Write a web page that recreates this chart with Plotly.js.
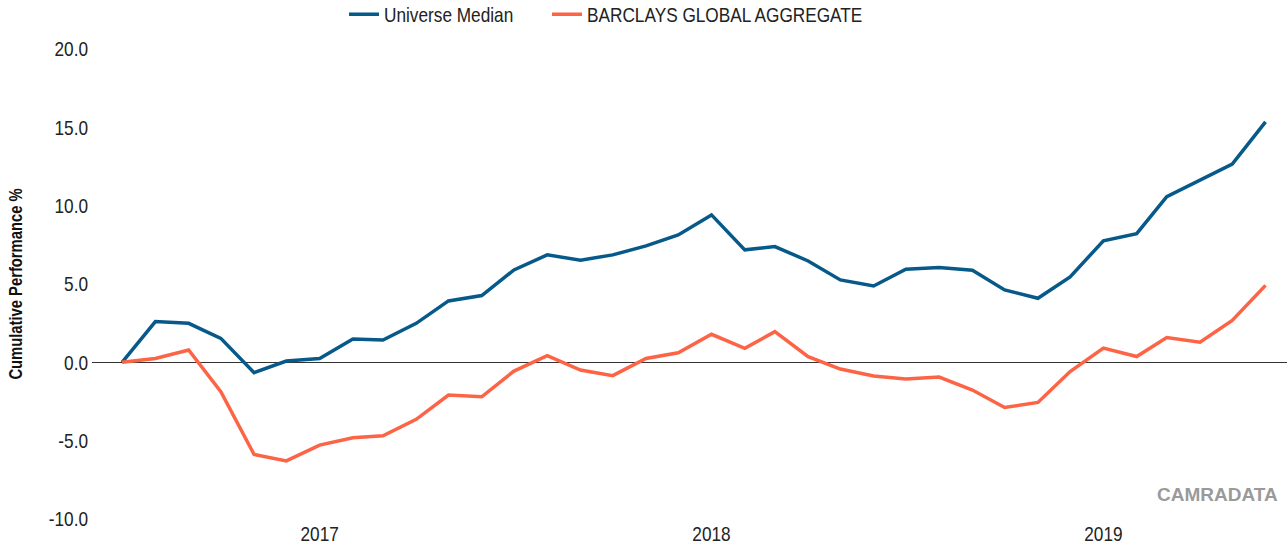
<!DOCTYPE html>
<html>
<head>
<meta charset="utf-8">
<script src="https://cdn.plot.ly/plotly-3.0.1.min.js"></script>
<style>
html,body{margin:0;padding:0;background:#fff;}
#chart{width:1287px;height:550px;}
</style>
</head>
<body>
<div id="chart"></div>
<script>
var months = ['2016-07-01','2016-08-01','2016-09-01','2016-10-01','2016-11-01','2016-12-01',
  '2017-01-01','2017-02-01','2017-03-01','2017-04-01','2017-05-01','2017-06-01',
  '2017-07-01','2017-08-01','2017-09-01','2017-10-01','2017-11-01','2017-12-01',
  '2018-01-01','2018-02-01','2018-03-01','2018-04-01','2018-05-01','2018-06-01',
  '2018-07-01','2018-08-01','2018-09-01','2018-10-01','2018-11-01','2018-12-01',
  '2019-01-01','2019-02-01','2019-03-01','2019-04-01','2019-05-01','2019-06-01'];
var universeMedian = [0, 2.6, 2.49, 1.53, -0.66, 0.08, 0.25, 1.49, 1.42, 2.49, 3.92, 4.26,
  5.9, 6.86, 6.52, 6.86, 7.43, 8.13, 9.41, 7.18, 7.39, 6.47, 5.26, 4.87,
  5.94, 6.05, 5.88, 4.62, 4.09, 5.45, 7.76, 8.21, 10.58, 11.66, 12.66, 15.35];
var barclaysGlobalAggregate = [0, 0.25, 0.79, -1.88, -5.88, -6.29, -5.28, -4.82, -4.69, -3.64, -2.09, -2.2,
  -0.56, 0.42, -0.49, -0.85, 0.25, 0.61, 1.79, 0.89, 1.96, 0.36, -0.43, -0.87,
  -1.07, -0.94, -1.77, -2.88, -2.56, -0.59, 0.91, 0.37, 1.58, 1.29, 2.67, 4.91];
var seriesNames = ['Universe Median', 'BARCLAYS GLOBAL AGGREGATE'];
var yearTickVals = ['2017-01-01','2018-01-01','2019-01-01'];
var yearTickText = ['2017','2018','2019'];
var yTickVals = [-10, -5, 0, 5, 10, 15, 20];
var yTickText = ['-10.0', '-5.0', '0.0', '5.0', '10.0', '15.0', '20.0'];

var FONT = '"Liberation Sans", Arial, sans-serif';
var NARROW = 0.82;

var traces = [
  {x: months, y: universeMedian, name: seriesNames[0], type: 'scatter', mode: 'lines',
   legendwidth: 158, line: {color: '#07598a', width: 3.5}},
  {x: months, y: barclaysGlobalAggregate, name: seriesNames[1], type: 'scatter', mode: 'lines',
   line: {color: '#fd6446', width: 3.5}}
];

var layout = {
  width: 1287, height: 550,
  margin: {l: 92, r: 0, t: 49, b: 31, pad: 0},
  paper_bgcolor: '#fff', plot_bgcolor: '#fff',
  font: {family: FONT, size: 21, color: '#222'},
  showlegend: true,
  legend: {orientation: 'h', xref: 'container', yref: 'container', x: 0.2673, xanchor: 'left',
           y: 0.9735, yanchor: 'middle',
           font: {family: FONT, size: 21, color: '#222'}, bgcolor: 'rgba(0,0,0,0)'},
  xaxis: {type: 'date', range: ['2016-06-03', '2019-06-21'], tickvals: yearTickVals, ticktext: yearTickText,
          showgrid: false, zeroline: false, showline: false, ticks: '',
          tickfont: {family: FONT, size: 21, color: '#222'}},
  yaxis: {range: [-10, 20], tickvals: yTickVals, ticktext: yTickText, showgrid: false, showline: false,
          ticks: '', zeroline: true, zerolinecolor: '#333', zerolinewidth: 1.5, ticklabelstandoff: 3,
          tickfont: {family: FONT, size: 21, color: '#222'},
          title: {text: 'Cumulative Performance %', font: {family: FONT, size: 18, color: '#111', weight: 'bold'}, standoff: 12}},
  annotations: [
    {text: '<b>CAMRADATA</b>', xref: 'paper', yref: 'paper', x: 1, y: 0.052, xanchor: 'right', yanchor: 'middle',
     xshift: -7, showarrow: false, font: {family: FONT, size: 19, color: '#9a9a9a'}}
  ]
};

Plotly.newPlot('chart', traces, layout, {displayModeBar: false, staticPlot: true}).then(function () {
  // emulate the narrow (Arial Narrow style) face of the reference
  var sel = '.legendtext, .xtick text, .ytick text, text.ytitle';
  document.querySelectorAll(sel).forEach(function (t) {
    var w = t.getComputedTextLength();
    t.setAttribute('textLength', (w * NARROW).toFixed(2));
    t.setAttribute('lengthAdjust', 'spacingAndGlyphs');
  });
});
</script>
</body>
</html>
